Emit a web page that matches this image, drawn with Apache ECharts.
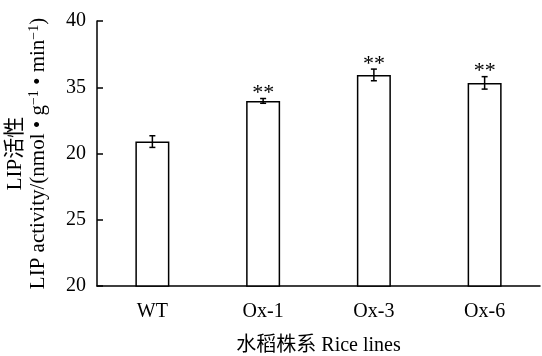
<!DOCTYPE html>
<html>
<head>
<meta charset="utf-8">
<script src="https://cdn.jsdelivr.net/npm/echarts@6/dist/echarts.min.js"></script>
<style>html,body{margin:0;padding:0;background:#fff;}#c{width:542px;height:356px;}</style>
</head>
<body>
<div id="c"></div>
<script>
var categories = ['WT', 'Ox-1', 'Ox-3', 'Ox-6'];
var values = [30.9, 33.97, 35.93, 35.33];
var errors = [0.44, 0.18, 0.44, 0.47];
var significance = ['', '**', '**', '**'];
var yTickLabels = ['20', '25', '20', '35', '40'];
var yTickValues = [20, 25, 30, 35, 40];

var FONT = "'Liberation Serif', 'Noto Sans CJK SC', serif";
var chart = echarts.init(document.getElementById('c'));
var errData = categories.map(function (c, i) { return [i, values[i], errors[i]]; });

chart.setOption({
  animation: false,
  backgroundColor: '#fff',
  grid: { left: 97, right: 2, top: 21, bottom: 70, containLabel: false, outerBoundsMode: 'none' },
  xAxis: {
    type: 'category',
    data: categories,
    name: '水稻株系 Rice lines',
    nameLocation: 'middle',
    nameGap: 50,
    nameTextStyle: { fontFamily: FONT, fontSize: 20, color: '#000' },
    axisLine: { lineStyle: { color: '#000', width: 1.5 } },
    axisTick: { inside: true, length: 6, lineStyle: { color: '#000', width: 1.5 } },
    axisLabel: { fontFamily: FONT, fontSize: 20, color: '#000', margin: 16 },
    splitLine: { show: false }
  },
  yAxis: {
    type: 'value',
    min: 20, max: 40, interval: 5,
    name: '{a|LIP活性}\n{a|LIP activity/(nmol • g}{s|−1}{a| • min}{s|−1}{a|)}',
    nameLocation: 'middle',
    nameRotate: 90,
    nameGap: 47,
    nameTextStyle: {
      fontFamily: FONT, fontSize: 21, color: '#000', lineHeight: 23,
      rich: {
        a: { fontFamily: FONT, fontSize: 21, color: '#000', lineHeight: 23 },
        s: { fontFamily: FONT, fontSize: 14, color: '#000', verticalAlign: 'top', lineHeight: 23, padding: [0, 0, 8, 0] }
      }
    },
    axisLine: { show: true, lineStyle: { color: '#000', width: 1.5 } },
    axisTick: { show: true, inside: true, length: 6, lineStyle: { color: '#000', width: 1.5 } },
    axisLabel: {
      fontFamily: FONT, fontSize: 20, color: '#000', margin: 11,
      formatter: function (v) { var k = yTickValues.indexOf(v); return k >= 0 ? yTickLabels[k] : ''; }
    },
    splitLine: { show: false }
  },
  series: [
    {
      type: 'bar',
      data: values,
      barWidth: 34,
      itemStyle: { color: '#fff', borderColor: '#000', borderWidth: 1.5 }
    },
    {
      type: 'custom',
      data: errData,
      z: 5,
      renderItem: function (params, api) {
        var x = api.value(0), v = api.value(1), e = api.value(2);
        var top = api.coord([x, v + e]);
        var bot = api.coord([x, v - e]);
        var hw = 3;
        var ls = { stroke: '#000', lineWidth: 1.5 };
        var children = [
          { type: 'line', shape: { x1: top[0], y1: top[1], x2: bot[0], y2: bot[1] }, style: ls },
          { type: 'line', shape: { x1: top[0] - hw, y1: top[1], x2: top[0] + hw, y2: top[1] }, style: ls },
          { type: 'line', shape: { x1: bot[0] - hw, y1: bot[1], x2: bot[0] + hw, y2: bot[1] }, style: ls }
        ];
        var sig = significance[params.dataIndex];
        if (sig) {
          children.push({
            type: 'text',
            style: { text: sig, x: top[0], y: top[1] + 6, align: 'center', verticalAlign: 'bottom',
                     font: '22px ' + FONT, fill: '#000' }
          });
        }
        return { type: 'group', children: children };
      }
    }
  ]
});
</script>
</body>
</html>
